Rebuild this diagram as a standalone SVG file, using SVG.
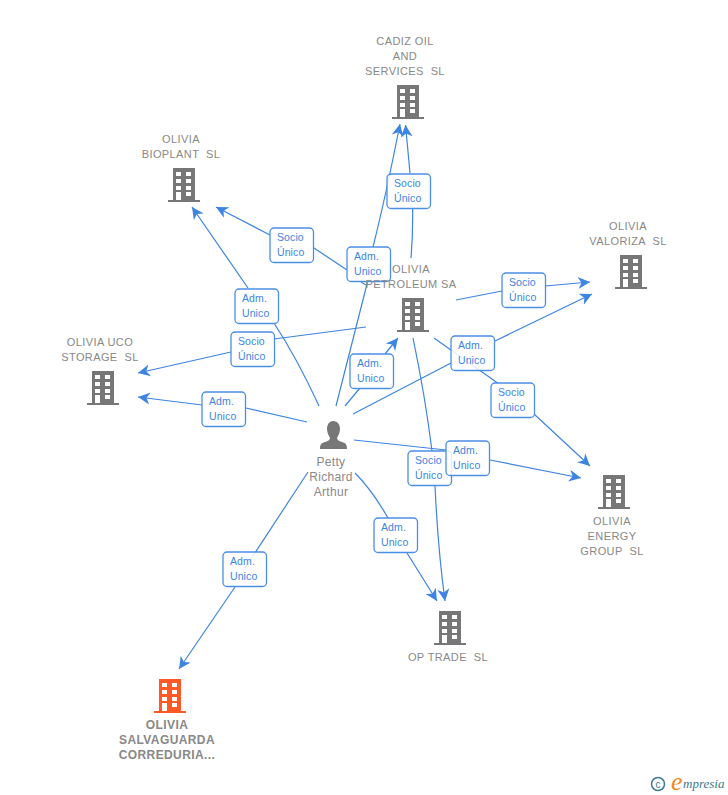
<svg xmlns="http://www.w3.org/2000/svg" width="728" height="795" viewBox="0 0 728 795">
<style>
.c{fill:none;stroke:#3d84e3;stroke-width:1.2;marker-end:url(#a)}
.b{fill:#fff;fill-opacity:.85;stroke:#4a8fe6;stroke-width:1.3}
.t{font:10.5px "Liberation Sans",Arial,sans-serif;fill:#3d84e3;letter-spacing:.1px}
.n{font:11px "Liberation Sans",Arial,sans-serif;fill:#888;text-anchor:middle;white-space:pre;letter-spacing:.4px}
.p{font:12px "Liberation Sans",Arial,sans-serif;fill:#888;text-anchor:middle;letter-spacing:.3px}
.s{font-weight:bold;font-size:12px}
.g{fill:#777}
.o{fill:#ff5a26}
</style>
<defs>
<marker id="a" markerUnits="userSpaceOnUse" markerWidth="14" markerHeight="14" refX="12" refY="7" orient="auto"><path d="M12,7L0,1L3.500,7L0,13Z" fill="#3d84e3"/></marker>
<symbol id="bld" width="32" height="34" viewBox="0 0 32 34"><path fill-rule="evenodd" d="M5,0H27V32H32V34H0V32H5ZM8,4V8H13V4ZM18,4V8H23V4ZM8,11V15H13V11ZM18,11V15H23V11ZM8,18V22H13V18ZM18,18V22H23V18ZM8,24V32H13V24ZM18,24V28H23V24Z"/></symbol>
<g id="lbl"><rect class="b" width="43.500" height="34.500" rx="4"/></g>
</defs>
<g id="connectors">
<path class="c" d="M336,406L367.500,282M373,247Q386,195 400,124"/>
<path class="c" d="M411,258Q413,235 412.600,208M410,173L405.500,125"/>
<path class="c" d="M319,406Q298,360 274,323M248,288L192,207"/>
<path class="c" d="M361,282L366,285M347,270L314,248M270,235L216,207"/>
<path class="c" d="M366,327L274,339M231,352L138,373"/>
<path class="c" d="M307,422L246,408M202,405L138,397"/>
<path class="c" d="M345,406L360,388M385,354L398,338"/>
<path class="c" d="M353,414L451,363M495,341L592,294"/>
<path class="c" d="M456,300L502,291M545,286L590,282"/>
<path class="c" d="M434,338L499,384M534,414L590,466"/>
<path class="c" d="M413,338Q425,395 432,451M435,486Q438,550 445,601"/>
<path class="c" d="M354,440L446,450M490,460L581,478"/>
<path class="c" d="M355,473Q372,490 388,518M407,553L437,601"/>
<path class="c" d="M308,472L245,568M235,587L179,669"/>
</g>
<g id="edge-labels">
<g transform="translate(387,174)"><use href="#lbl"/><text class="t" x="7" y="13">Socio</text><text class="t" x="7" y="28">Único</text></g>
<g transform="translate(235,289)"><use href="#lbl"/><text class="t" x="7" y="13">Adm.</text><text class="t" x="7" y="28">Unico</text></g>
<g transform="translate(270,228)"><use href="#lbl"/><text class="t" x="7" y="13">Socio</text><text class="t" x="7" y="28">Único</text></g>
<g transform="translate(347,247)"><use href="#lbl"/><text class="t" x="7" y="13">Adm.</text><text class="t" x="7" y="28">Unico</text></g>
<g transform="translate(231,332)"><use href="#lbl"/><text class="t" x="7" y="13">Socio</text><text class="t" x="7" y="28">Único</text></g>
<g transform="translate(202,392)"><use href="#lbl"/><text class="t" x="7" y="13">Adm.</text><text class="t" x="7" y="28">Unico</text></g>
<g transform="translate(350,354)"><use href="#lbl"/><text class="t" x="7" y="13">Adm.</text><text class="t" x="7" y="28">Unico</text></g>
<g transform="translate(451,336)"><use href="#lbl"/><text class="t" x="7" y="13">Adm.</text><text class="t" x="7" y="28">Unico</text></g>
<g transform="translate(502,273)"><use href="#lbl"/><text class="t" x="7" y="13">Socio</text><text class="t" x="7" y="28">Único</text></g>
<g transform="translate(491,383)"><use href="#lbl"/><text class="t" x="7" y="13">Socio</text><text class="t" x="7" y="28">Único</text></g>
<g transform="translate(408,451)"><use href="#lbl"/><text class="t" x="7" y="13">Socio</text><text class="t" x="7" y="28">Único</text></g>
<g transform="translate(446,441)"><use href="#lbl"/><text class="t" x="7" y="13">Adm.</text><text class="t" x="7" y="28">Unico</text></g>
<g transform="translate(374,518)"><use href="#lbl"/><text class="t" x="7" y="13">Adm.</text><text class="t" x="7" y="28">Unico</text></g>
<g transform="translate(223,552)"><use href="#lbl"/><text class="t" x="7" y="13">Adm.</text><text class="t" x="7" y="28">Unico</text></g>
</g>
<g id="cadiz"><use href="#bld" class="g" x="392" y="85"/><text class="n" x="405" y="45">CADIZ OIL</text><text class="n" x="405" y="60">AND</text><text class="n" x="405" y="75">SERVICES  SL</text></g>
<g id="bioplant"><use href="#bld" class="g" x="168" y="168"/><text class="n" x="181" y="143">OLIVIA</text><text class="n" x="181" y="158">BIOPLANT  SL</text></g>
<g id="valoriza"><use href="#bld" class="g" x="615" y="255"/><text class="n" x="628" y="230">OLIVIA</text><text class="n" x="628" y="245">VALORIZA  SL</text></g>
<g id="uco"><use href="#bld" class="g" x="87" y="371"/><text class="n" x="100" y="346">OLIVIA UCO</text><text class="n" x="100" y="361">STORAGE  SL</text></g>
<g id="petroleum"><use href="#bld" class="g" x="397" y="298"/><text class="n" x="411" y="273">OLIVIA</text><text class="n" x="411" y="288">PETROLEUM SA</text></g>
<g id="energy"><use href="#bld" class="g" x="598" y="475"/><text class="n" x="612" y="525">OLIVIA</text><text class="n" x="612" y="540">ENERGY</text><text class="n" x="612" y="555">GROUP  SL</text></g>
<g id="optrade"><use href="#bld" class="g" x="434" y="611"/><text class="n" x="448" y="661">OP TRADE  SL</text></g>
<g id="salvaguarda"><use href="#bld" class="o" x="154" y="679"/><text class="n s" x="167" y="729">OLIVIA</text><text class="n s" x="167" y="744">SALVAGUARDA</text><text class="n s" x="167" y="759">CORREDURIA...</text></g>
<g id="person"><path class="g" d="M333,421C338,421 340,425 340,429C340,433 338,436 337,438C337,440 339,441 342,442C346,443 347,445 347,449H320C320,445 321,443 325,442C328,441 330,440 330,438C329,436 327,433 327,429C327,425 329,421 333,421Z"/><text class="p" x="331" y="466">Petty</text><text class="p" x="331" y="481">Richard</text><text class="p" x="331" y="496">Arthur</text></g>
<g id="logo"><circle cx="658" cy="784" r="6.500" fill="none" stroke="#3b7a8f" stroke-width="1.500"/><text x="658" y="787.500" font-family="Liberation Sans,sans-serif" font-size="10" fill="#3b7a8f" text-anchor="middle">c</text><text x="671" y="790" font-family="Liberation Serif,serif" font-style="italic" font-size="26" fill="#f08a1d">e</text><text x="683" y="788" font-family="Liberation Serif,serif" font-style="italic" font-size="13" fill="#3b7a8f">mpresia</text></g>
</svg>
